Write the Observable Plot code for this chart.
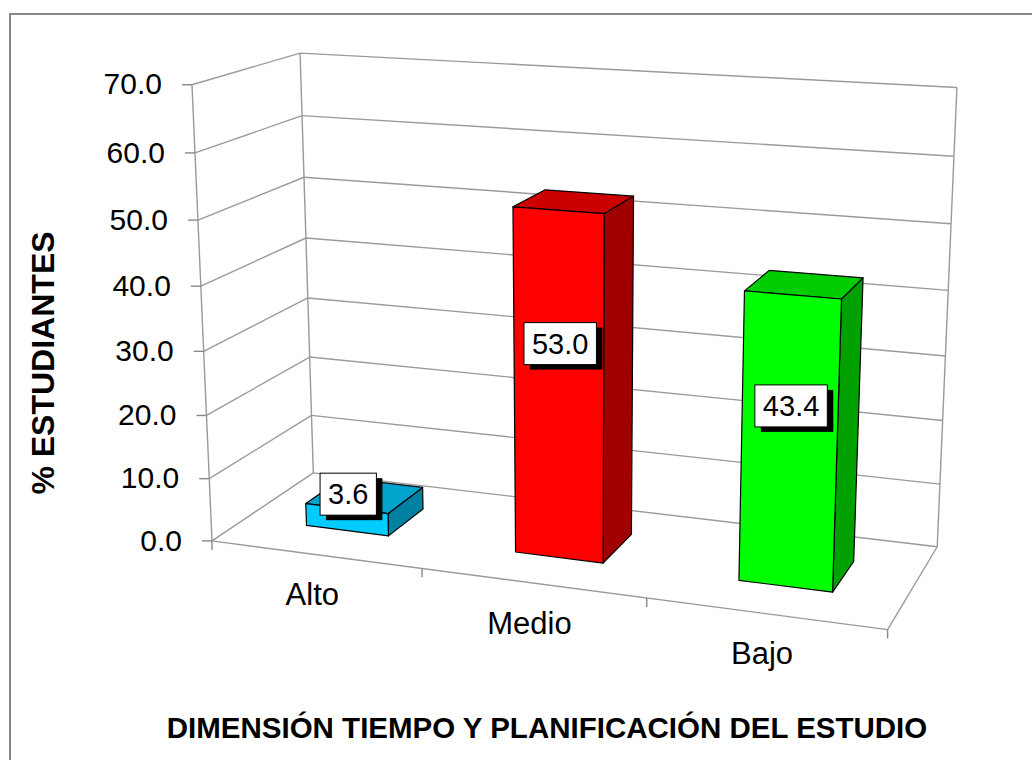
<!DOCTYPE html>
<html>
<head>
<meta charset="utf-8">
<script src="https://cdn.jsdelivr.net/npm/d3@7"></script>
<script src="https://cdn.jsdelivr.net/npm/@observablehq/plot@0.6"></script>
<style>
  html, body { margin: 0; padding: 0; background: #fff; overflow: hidden; width: 1032px; height: 760px; }
  body { position: relative; font-family: "Liberation Sans", Arial, Helvetica, sans-serif; color: #000; }
  #frame { position: absolute; left: 9px; top: 13px; width: 1100px; height: 820px;
           border-left: 2px solid #878787; border-top: 2px solid #878787; }
  #chart { position: absolute; left: 0; top: 0; }
  #ytitle { position: absolute; left: 43px; top: 363px; transform: translate(-50%, -50%) rotate(-90deg);
            font-weight: bold; font-size: 32px; white-space: nowrap; }
  #xtitle { position: absolute; left: 547px; top: 728px; transform: translate(-50%, -50%);
            font-weight: bold; font-size: 29.5px; white-space: nowrap; }
</style>
</head>
<body>
<div id="frame"></div>
<div id="chart"></div>
<div id="ytitle">% ESTUDIANTES</div>
<div id="xtitle">DIMENSIÓN TIEMPO Y PLANIFICACIÓN DEL ESTUDIO</div>
<script>
// ---------------- data ----------------
const categories = ["Alto", "Medio", "Bajo"];
const values = [3.6, 53.0, 43.4];
const yTicks = [0, 10, 20, 30, 40, 50, 60, 70];
const yMax = 70;

// ---------------- styles ----------------
const barColors = ["#00CCFF", "#FF0000", "#00FF00"];
const gridColor = "#9a9a9a";
const font = "Liberation Sans, Arial, Helvetica, sans-serif";

// ---------------- scales ----------------
const hScale = Plot.scale({y: {type: "linear", domain: [0, yMax], range: [0, 1]}});
const uScale = Plot.scale({x: {type: "band", domain: categories, range: [0, categories.length], padding: 0}});
const nSlots = categories.length;

// ---------------- 3D camera (projective map fitted to the frame of the reference) ----------------
// anchors: [u (category slot), h (height fraction), w (depth), screenX, screenY]
const frameAnchors = [
  [0, 0, 0, 212, 540], [0, 1, 0, 192, 84], [0, 0, 1, 313, 472], [0, 1, 1, 299, 53],
  [3, 0, 0, 887, 628], [3, 0, 1, 937, 546], [3, 1, 1, 957, 87],
  [1, 0, 0, 421, 570], [2, 0, 0, 646, 598], [0, 3/7, 0, 203, 350], [3, 6/7, 1, 953, 156]
];
function fitCamera(anchors) {
  const A = [], b = [];
  for (const [u, h, w, x, y] of anchors) {
    A.push([u, h, w, 1, 0, 0, 0, 0, -x*u, -x*h, -x*w]); b.push(x);
    A.push([0, 0, 0, 0, u, h, w, 1, -y*u, -y*h, -y*w]); b.push(y);
  }
  const n = 11;
  const M = Array.from({length: n}, () => new Array(n + 1).fill(0));
  for (let r = 0; r < A.length; r++)
    for (let i = 0; i < n; i++) {
      for (let j = 0; j < n; j++) M[i][j] += A[r][i] * A[r][j];
      M[i][n] += A[r][i] * b[r];
    }
  for (let c = 0; c < n; c++) {
    let p = c;
    for (let r = c + 1; r < n; r++) if (Math.abs(M[r][c]) > Math.abs(M[p][c])) p = r;
    [M[c], M[p]] = [M[p], M[c]];
    for (let r = 0; r < n; r++) {
      if (r === c) continue;
      const f = M[r][c] / M[c][c];
      for (let j = c; j <= n; j++) M[r][j] -= f * M[c][j];
    }
  }
  return M.map((row, i) => row[n] / row[i]);
}
const C = fitCamera(frameAnchors);
function P(u, h, w) {
  const d = C[8]*u + C[9]*h + C[10]*w + 1;
  return [(C[0]*u + C[1]*h + C[2]*w + C[3]) / d, (C[4]*u + C[5]*h + C[6]*w + C[7]) / d];
}

// ---------------- geometry built from data ----------------
const grid = [];
const seg = (a, b) => grid.push({x1: a[0], y1: a[1], x2: b[0], y2: b[1]});
for (const t of yTicks) {
  const h = hScale.apply(t);
  seg(P(0, h, 0), P(0, h, 1));           // side wall
  seg(P(0, h, 1), P(nSlots, h, 1));      // back wall
}
seg(P(0, 0, 0), P(0, 1, 0));             // value axis
seg(P(0, 0, 1), P(0, 1, 1));
seg(P(nSlots, 0, 1), P(nSlots, 1, 1));
seg(P(0, 0, 0), P(nSlots, 0, 0));        // floor front edge
seg(P(nSlots, 0, 0), P(nSlots, 0, 1));   // floor right edge

const ticks = [];
for (const t of yTicks) {
  const [x, y] = P(0, hScale.apply(t), 0);
  ticks.push({x1: x - 10, y1: y, x2: x, y2: y});
}
for (let u = 0; u <= nSlots; u++) {
  const [x, y] = P(u, 0, 0);
  ticks.push({x1: x, y1: y, x2: x, y2: y + 9});
}

const tickLabels = yTicks.map(t => {
  const [x, y] = P(0, hScale.apply(t), 0);
  return {x: x - 30, y, text: d3.format(".1f")(t)};
});

const shade = (c, k) => { const r = d3.rgb(c); return d3.rgb(r.r * k, r.g * k, r.b * k).formatHex(); };
const halfW = 0.2, w0 = 0.32, w1 = 0.70;
const faces = [];
const catLabels = [];
const dataLabels = [];
categories.forEach((cat, i) => {
  const c = uScale.apply(cat) + uScale.bandwidth / 2;
  const u0 = c - halfW, u1 = c + halfW;
  const h = hScale.apply(values[i]);
  const base = barColors[i];
  const addFace = (id, fill, pts) => {
    [...pts, pts[0]].forEach(p => { const [x, y] = P(...p); faces.push({id: `${cat}-${id}`, fill, x, y}); });
  };
  addFace("side", shade(base, 0.63), [[u1, 0, w0], [u1, 0, w1], [u1, h, w1], [u1, h, w0]]);
  addFace("top", shade(base, 0.8), [[u0, h, w0], [u1, h, w0], [u1, h, w1], [u0, h, w1]]);
  addFace("front", base, [[u0, 0, w0], [u1, 0, w0], [u1, h, w0], [u0, h, w0]]);
  const [cx, cy] = P(c, 0, 0);
  catLabels.push({x: cx, y: cy, text: cat});
  // label sits inside the column when it fits, otherwise just above its top
  const lv = values[i] > 10 ? values[i] * 0.62 : values[i] + 2;
  const [lx, ly] = P(c, hScale.apply(lv), 0.34);
  dataLabels.push({x: lx, y: ly, text: d3.format(".1f")(values[i])});
});

const chart = Plot.plot({
  width: 1032,
  height: 700,
  margin: 0,
  style: {fontFamily: font, background: "transparent", overflow: "visible"},
  x: {type: "identity", axis: null},
  y: {type: "identity", axis: null},
  color: {type: "identity"},
  marks: [
    Plot.link(grid, {x1: "x1", y1: "y1", x2: "x2", y2: "y2", stroke: gridColor, strokeWidth: 1.4}),
    Plot.link(ticks, {x1: "x1", y1: "y1", x2: "x2", y2: "y2", stroke: "#888", strokeWidth: 1.4}),
    Plot.text(tickLabels, {x: "x", y: "y", text: "text", textAnchor: "end", fontSize: 30, fill: "#000"}),
    Plot.text(catLabels, {x: "x", y: "y", text: "text", dy: 41, dx: -3, fontSize: 31, fill: "#000"}),
    Plot.line(faces, {x: "x", y: "y", z: "id", fill: "fill", stroke: "#000", strokeWidth: 1.2, strokeLinejoin: "round", curve: "linear"}),
    Plot.text(dataLabels, {x: "x", y: "y", text: "text", fontSize: 29, fill: "#000", ariaDescription: "datalabels"})
  ]
});
document.getElementById("chart").appendChild(chart);

// white label boxes with a black drop shadow behind each data label
const ns = "http://www.w3.org/2000/svg";
let labelGroup = chart.querySelector('g[aria-description="datalabels"]');
if (!labelGroup) { const gs = chart.querySelectorAll('g[aria-label="text"]'); labelGroup = gs[gs.length - 1]; }
if (labelGroup) {
  labelGroup.querySelectorAll("text").forEach(t => {
    const bb = t.getBBox();
    const padX = 8, padY = 5;
    const tr = t.getAttribute("transform");
    const mk = (dx, dy, fill, stroke) => {
      const r = document.createElementNS(ns, "rect");
      r.setAttribute("x", bb.x - padX + dx);
      r.setAttribute("y", bb.y - padY + dy);
      r.setAttribute("width", bb.width + 2 * padX);
      r.setAttribute("height", bb.height + 2 * padY);
      r.setAttribute("fill", fill);
      if (stroke) { r.setAttribute("stroke", stroke); r.setAttribute("stroke-width", 1); }
      if (tr) r.setAttribute("transform", tr);
      t.parentNode.insertBefore(r, t);
    };
    mk(6, 5, "#000");
    mk(0, 0, "#fff", "#000");
  });
}
</script>
</body>
</html>
